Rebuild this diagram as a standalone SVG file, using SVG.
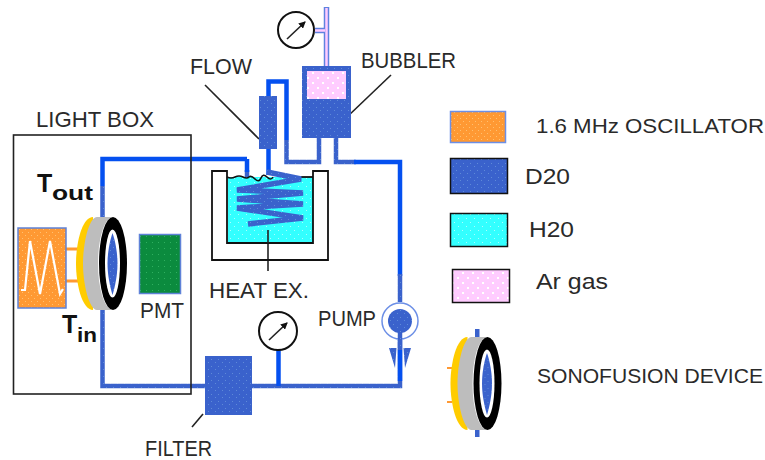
<svg xmlns="http://www.w3.org/2000/svg" width="765" height="460" viewBox="0 0 765 460">
<style>
text{font-family:"Liberation Sans",Arial,sans-serif;fill:#2a2a2a;font-size:22.500px}
.b{font-weight:bold;fill:#111}
.s{font-size:20.500px}
.pipe{fill:none;stroke:url(#blue);stroke-width:4.500}
.bright{fill:none;stroke:#0450f0;stroke-width:4.500}
.ln{fill:none;stroke:#222;stroke-width:1.600}
.gauge{fill:#fff;stroke:#111;stroke-width:2}
</style>
<defs>
<pattern id="blue" width="7" height="7" patternUnits="userSpaceOnUse"><rect width="7" height="7" fill="#3a62cc"/><rect x="1" y="2" width="1" height="1" fill="#5f8ad8"/><rect x="5" y="5" width="1" height="1" fill="#5f8ad8"/></pattern>
<pattern id="orange" width="6" height="6" patternUnits="userSpaceOnUse"><rect width="6" height="6" fill="#ff9933"/><rect x="1" y="1" width="1" height="1" fill="#ffc070"/><rect x="4" y="4" width="1" height="1" fill="#ffc070"/></pattern>
<pattern id="cyan" width="8" height="8" patternUnits="userSpaceOnUse"><rect width="8" height="8" fill="#33ffff"/><rect x="2" y="2" width="1" height="1" fill="#aaffff"/><rect x="6" y="6" width="1" height="1" fill="#aaffff"/></pattern>
<pattern id="pink" width="10" height="10" patternUnits="userSpaceOnUse"><rect width="10" height="10" fill="#ffccff"/><rect x="2" y="2" width="2" height="2" fill="#fff"/><rect x="7" y="7" width="2" height="2" fill="#fff"/></pattern>
<pattern id="green" width="6" height="6" patternUnits="userSpaceOnUse"><rect width="6" height="6" fill="#0b8b3e"/><rect x="2" y="2" width="1" height="1" fill="#2fb060"/></pattern>
<marker id="gaugeArrow" markerUnits="userSpaceOnUse" markerWidth="7" markerHeight="7" refX="6" refY="3.500" orient="auto"><path d="M0,0 L7,3.500 L0,7 Z" fill="#111"/></marker>
<g id="device">
<path d="M93,217 C82,217 76,243 76,263.500 C76,284 82,310 93,310 Z" fill="#ffcc00"/>
<path d="M97,217 H113 V310 H97 C89,310 83,284 83,263.500 C83,243 89,217 97,217 Z" fill="#bdbdbd"/>
<ellipse cx="113" cy="263.500" rx="15" ry="46.500" fill="#fff"/>
<ellipse cx="113" cy="263.500" rx="14" ry="46.500" fill="#000"/>
<ellipse cx="112.500" cy="263.500" rx="7.500" ry="34" fill="#fff"/>
<path d="M112.500,233 C115,240 117.500,252 117.500,263.500 C117.500,275 115,287 112.500,295 C110,287 107.500,275 107.500,263.500 C107.500,252 110,240 112.500,233 Z" fill="url(#blue)"/>
</g>
</defs>

<g id="connectors">
<path class="bright" d="M102.500,186 V159 H247"/>
<path class="pipe" d="M102.500,186 V218 M102.500,309 V386 H205 M252,386 H400 V340"/>
<path class="pipe" d="M247,170 V224 H257"/>
<path class="bright" d="M247,159 V172"/>
<path class="pipe" d="M286.500,140 V162 H319 V138"/>
<path class="bright" d="M268.500,96 V81.500 H286.500 V140"/>
<path class="bright" d="M268.500,149 V175"/>
<path class="pipe" d="M336,138 V162 H356"/>
<path class="bright" d="M354,162 H400 V276"/>
<path class="pipe" d="M400,274 V302"/>
<path class="bright" d="M400,350 V381"/>
<path class="bright" d="M278.500,350 V386"/>
<path d="M326.500,7 V71 M315,30.500 H326.500" fill="none" stroke="#5f82e0" stroke-width="5.500"/>
<path d="M326.500,8 V71 M315,30.500 H325" fill="none" stroke="#ffccff" stroke-width="2.500"/>
<path d="M66,249 H79 M66,281 H79" fill="none" stroke="#ff9933" stroke-width="3"/>
<path class="ln" d="M205,85 L259,139"/>
<path class="ln" d="M391,75 L347,117"/>
<path class="ln" d="M268,230 V271"/>
<path class="ln" d="M203,414 L192,427"/>
</g>

<g id="light-box"><rect x="13.500" y="135" width="177.500" height="259" fill="none" stroke="#222" stroke-width="1.600"/><text x="36" y="127" textLength="118" lengthAdjust="spacingAndGlyphs">LIGHT BOX</text></g>

<g id="oscillator"><rect x="18" y="228" width="48" height="80" fill="url(#orange)" stroke="#5f82d8" stroke-width="1.500"/><path d="M21,290 H25 L30,241 L40,294 L50,241 L60,294 L63,289" fill="none" stroke="#fff" stroke-width="2.200"/></g>

<g id="sonofusion"><use href="#device"/></g>
<g id="tout"><text class="b" x="37" y="192" style="font-size:25px">T</text><text class="b" x="52" y="200" style="font-size:20px" textLength="41" lengthAdjust="spacingAndGlyphs">out</text></g>
<g id="tin"><text class="b" x="62" y="333" style="font-size:25px">T</text><text class="b" x="77" y="342" style="font-size:20px" textLength="20" lengthAdjust="spacingAndGlyphs">in</text></g>

<g id="pmt"><rect x="139.500" y="234.500" width="41" height="59" fill="url(#green)" stroke="#5f82d8" stroke-width="1.500"/><text x="140" y="318" textLength="44" lengthAdjust="spacingAndGlyphs">PMT</text></g>

<g id="heat-exchanger">
<rect x="228" y="177" width="85" height="66" fill="url(#cyan)"/>
<path d="M227,177 V243 H313 V171 H328 V260 H212 V171 H227 V177" fill="none" stroke="#111" stroke-width="1.800"/>
<path d="M227,177 q4,2 8,0 t8,0 t6,0 t6,2 t6,-1 t6,-1 t6,0" fill="none" stroke="#111" stroke-width="1.600"/>
<path d="M301,177 H313" stroke="#111" stroke-width="1.800"/>
<path d="M267,172 L301,179 L237,190 L303,193 L237,199 L303,204 L237,208 L303,218 L248,224" fill="none" stroke="url(#blue)" stroke-width="5.500" stroke-linejoin="bevel"/>
<path d="M268,230 V243" fill="none" stroke="#222" stroke-width="1.600"/>
<text x="209" y="298" textLength="100" lengthAdjust="spacingAndGlyphs">HEAT EX.</text>
</g>

<g id="flow"><rect x="259" y="96" width="18" height="53" fill="url(#blue)"/><text x="190" y="74" textLength="62" lengthAdjust="spacingAndGlyphs">FLOW</text></g>

<g id="bubbler"><rect x="302" y="66" width="49" height="72" fill="url(#blue)"/><rect x="307" y="71" width="39" height="28" fill="url(#pink)"/><text x="361" y="68" textLength="95" lengthAdjust="spacingAndGlyphs">BUBBLER</text></g>

<g id="gauge-top"><circle class="gauge" cx="296" cy="30" r="18"/><path d="M287,39 L305,22" class="ln" marker-end="url(#gaugeArrow)"/></g>
<g id="gauge-bottom"><circle class="gauge" cx="278" cy="331" r="19"/><path d="M269,340 L287,323" class="ln" marker-end="url(#gaugeArrow)"/></g>

<g id="pump">
<circle cx="400" cy="321" r="18" fill="#fff" stroke="#6c8fe6" stroke-width="1.500"/>
<circle cx="400" cy="321" r="12" fill="url(#blue)"/>
<path d="M400,330 V350" stroke="url(#blue)" stroke-width="4.500"/>
<path d="M389,348 H396.500 L395,368 Z M403.500,348 H411 L405,368 Z" fill="url(#blue)"/>
<text x="318" y="326" textLength="58" lengthAdjust="spacingAndGlyphs">PUMP</text>
</g>

<g id="filter"><rect x="205" y="356" width="47" height="59" fill="url(#blue)"/><text x="145" y="456" textLength="67" lengthAdjust="spacingAndGlyphs">FILTER</text></g>

<g id="legend-oscillator"><rect x="450.500" y="111.500" width="55" height="31" fill="url(#orange)" stroke="#6c8fe6" stroke-width="1.500"/><text class="s" x="536" y="133" textLength="228" lengthAdjust="spacingAndGlyphs">1.6 MHz OSCILLATOR</text></g>
<g id="legend-d2o"><rect x="450.500" y="158.500" width="57" height="35" fill="url(#blue)" stroke="#111" stroke-width="1.500"/><text x="525" y="184" textLength="45" lengthAdjust="spacingAndGlyphs">D20</text></g>
<g id="legend-h2o"><rect x="450.500" y="213.500" width="57" height="33" fill="url(#cyan)" stroke="#111" stroke-width="1.500"/><text x="529" y="237" textLength="45" lengthAdjust="spacingAndGlyphs">H20</text></g>
<g id="legend-ar"><rect x="452.500" y="269.500" width="57" height="33" fill="url(#pink)" stroke="#111" stroke-width="1.500"/><text x="536" y="289" textLength="72" lengthAdjust="spacingAndGlyphs">Ar gas</text></g>
<g id="legend-device">
<rect x="475" y="329" width="4.500" height="108" fill="#3a62cc"/>
<path d="M447,368 H452 M447,402 H452" stroke="#ff9933" stroke-width="2"/>
<use href="#device" x="374.500" y="120"/>
<text class="s" x="537" y="383" textLength="226" lengthAdjust="spacingAndGlyphs">SONOFUSION DEVICE</text>
</g>
</svg>
